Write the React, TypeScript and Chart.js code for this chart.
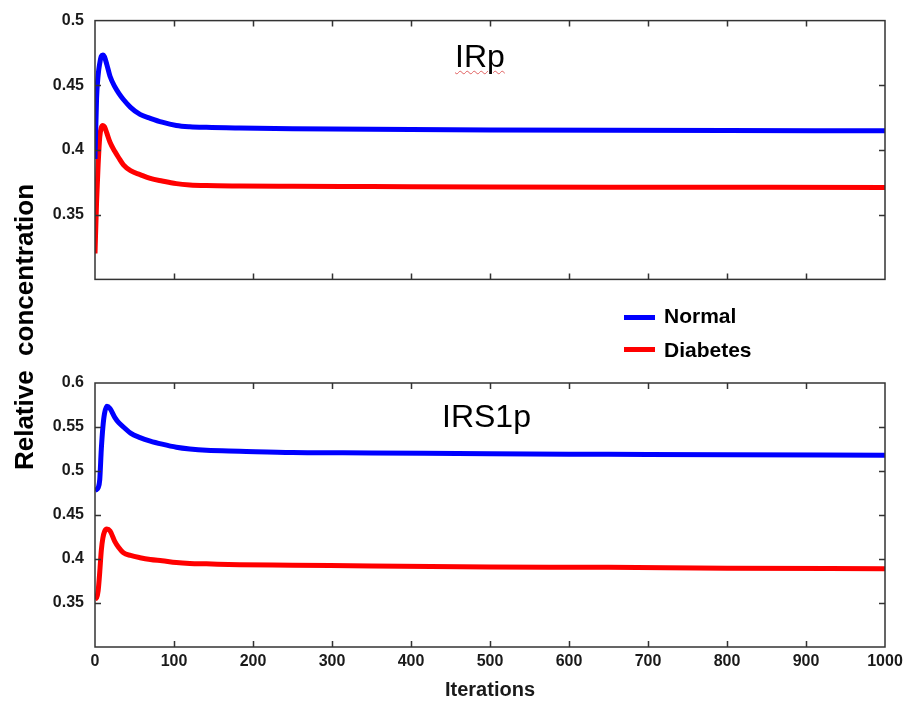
import React, { useEffect, useRef } from 'react';
import { Chart, registerables } from 'chart.js';

Chart.register(...registerables);

// ---- data ----
const iterations = [0, 2, 4, 6, 8, 10, 12, 15, 19, 25, 30, 36, 45, 57, 70, 85, 103, 120, 141, 183, 250, 350, 500, 650, 800, 1000];

const irpNormal = [0.393, 0.44, 0.458, 0.467, 0.4725, 0.4735, 0.472, 0.466, 0.457, 0.449, 0.444, 0.439, 0.433, 0.4275, 0.4245, 0.4215, 0.419, 0.418, 0.4175, 0.417, 0.4165, 0.416, 0.4155, 0.4152, 0.415, 0.4148];
const irpDiabetes = [0.32, 0.36, 0.389, 0.41, 0.4175, 0.419, 0.418, 0.413, 0.406, 0.399, 0.394, 0.3885, 0.384, 0.381, 0.378, 0.376, 0.374, 0.373, 0.3725, 0.3722, 0.372, 0.3718, 0.3715, 0.3713, 0.3712, 0.371];

const irs1pNormal = [0.478, 0.479, 0.481, 0.49, 0.525, 0.55, 0.565, 0.5735, 0.571, 0.561, 0.555, 0.55, 0.543, 0.538, 0.534, 0.5305, 0.527, 0.525, 0.5235, 0.5225, 0.521, 0.5205, 0.5195, 0.519, 0.5185, 0.518];
const irs1pDiabetes = [0.3546, 0.356, 0.364, 0.385, 0.41, 0.424, 0.431, 0.434, 0.432, 0.42, 0.413, 0.407, 0.404, 0.4015, 0.3995, 0.398, 0.396, 0.395, 0.3945, 0.3935, 0.393, 0.392, 0.391, 0.3905, 0.3895, 0.389];

const xMin = 0;
const xMax = 1000;
const xStep = 100;
const topYMin = 0.3;
const topYMax = 0.5;
const bottomYMin = 0.3;
const bottomYMax = 0.6;
const yStep = 0.05;

const seriesNames = ['Normal', 'Diabetes'];
const seriesColors = ['#0000ff', '#ff0000'];

const FONT = '"Liberation Sans", Arial, Helvetica, sans-serif';

const framePlugin = {
  id: 'frameTicks',
  afterDatasetsDraw(chart: any) {
    const { ctx, chartArea, scales } = chart;
    const { left, top, right, bottom } = chartArea;
    const tl = 6;
    ctx.save();
    ctx.strokeStyle = '#333333';
    ctx.lineWidth = 1.5;
    ctx.beginPath();
    scales.x.ticks.forEach((t: any) => {
      if (t.value <= scales.x.min || t.value >= scales.x.max) return;
      const px = Math.round(scales.x.getPixelForValue(t.value)) + 0.5;
      ctx.moveTo(px, bottom);
      ctx.lineTo(px, bottom - tl);
      ctx.moveTo(px, top);
      ctx.lineTo(px, top + tl);
    });
    scales.y.ticks.forEach((t: any) => {
      if (t.value <= scales.y.min + 1e-9 || t.value >= scales.y.max - 1e-9) return;
      const py = Math.round(scales.y.getPixelForValue(t.value)) + 0.5;
      ctx.moveTo(left, py);
      ctx.lineTo(left + tl, py);
      ctx.moveTo(right, py);
      ctx.lineTo(right - tl, py);
    });
    ctx.stroke();
    ctx.strokeRect(left, top, right - left, bottom - top);
    ctx.restore();
  },
};

type PanelProps = {
  normal: number[];
  diabetes: number[];
  yMin: number;
  yMax: number;
  showXLabels: boolean;
  top: number;
  height: number;
  padTop: number;
  padBottom: number;
  xAxisHeight: number;
};

function Panel(props: PanelProps) {
  const ref = useRef<HTMLCanvasElement | null>(null);
  useEffect(() => {
    if (!ref.current) return;
    const seriesValues = [props.normal, props.diabetes];
    const chart = new Chart(ref.current, {
      type: 'line',
      data: {
        datasets: seriesValues.map((vals, si) => ({
          label: seriesNames[si],
          data: iterations.map((x, i) => ({ x, y: vals[i] })),
          borderColor: seriesColors[si],
          backgroundColor: seriesColors[si],
          borderWidth: 5,
          pointRadius: 0,
          cubicInterpolationMode: 'monotone' as const,
          fill: false,
        })),
      },
      options: {
        animation: false,
        responsive: false,
        maintainAspectRatio: false,
        layout: { padding: { top: props.padTop, right: 26, bottom: props.padBottom, left: 0 } },
        plugins: {
          legend: { display: false },
          tooltip: { enabled: false },
          title: { display: false },
        },
        scales: {
          x: {
            type: 'linear',
            min: xMin,
            max: xMax,
            grid: { display: false, drawTicks: false },
            border: { display: false },
            ticks: {
              display: props.showXLabels,
              stepSize: xStep,
              padding: 5,
              color: '#1a1a1a',
              font: { family: FONT, size: 16, weight: 'bold' },
              maxRotation: 0,
              callback: (v: any) => String(v),
            },
            title: {
              display: props.showXLabels,
              text: 'Iterations',
              color: '#1a1a1a',
              font: { family: FONT, size: 20, weight: 'bold' },
              padding: { top: 0, bottom: 2 },
            },
            afterFit: (scale: any) => {
              scale.height = props.xAxisHeight;
            },
          },
          y: {
            type: 'linear',
            min: props.yMin,
            max: props.yMax,
            grid: { display: false, drawTicks: false },
            border: { display: false },
            ticks: {
              stepSize: yStep,
              padding: 11,
              color: '#1a1a1a',
              font: { family: FONT, size: 16, weight: 'bold' },
              callback: (v: any) => {
                const n = Number(Number(v).toFixed(2));
                if (Math.abs(n - props.yMin) < 1e-6) return '';
                return String(n);
              },
            },
            afterFit: (scale: any) => {
              scale.width = 95;
            },
          },
        },
      },
      plugins: [framePlugin],
    });
    return () => chart.destroy();
  }, []);
  return (
    <canvas
      ref={ref}
      width={911}
      height={props.height}
      style={{ position: 'absolute', left: 0, top: props.top, width: 911, height: props.height }}
    />
  );
}

export default function App() {
  const textBase: React.CSSProperties = {
    position: 'absolute',
    fontFamily: FONT,
    color: '#000',
    whiteSpace: 'pre',
  };
  return (
    <div style={{ position: 'absolute', left: 0, top: 0, width: 911, height: 704, background: '#fff', overflow: 'hidden' }}>
      <Panel normal={irpNormal} diabetes={irpDiabetes} yMin={topYMin} yMax={topYMax} showXLabels={false}
        top={0} height={300} padTop={17} padBottom={20} xAxisHeight={0} />
      <Panel normal={irs1pNormal} diabetes={irs1pDiabetes} yMin={bottomYMin} yMax={bottomYMax} showXLabels={true}
        top={360} height={344} padTop={23} padBottom={0} xAxisHeight={57} />

      <div style={{ ...textBase, left: 455, top: 40, fontSize: 32, lineHeight: '32px', textDecoration: 'underline wavy #e06060', textDecorationThickness: '1px', textUnderlineOffset: '3px' }}>IRp</div>
      <div style={{ ...textBase, left: 442, top: 400, fontSize: 32, lineHeight: '32px' }}>IRS1p</div>

      <div style={{ position: 'absolute', left: 624, top: 315, width: 31, height: 5, background: seriesColors[0] }} />
      <div style={{ ...textBase, left: 664, top: 305, fontSize: 21, lineHeight: '21px', fontWeight: 'bold' }}>{seriesNames[0]}</div>
      <div style={{ position: 'absolute', left: 624, top: 347, width: 31, height: 5, background: seriesColors[1] }} />
      <div style={{ ...textBase, left: 664, top: 339, fontSize: 21, lineHeight: '21px', fontWeight: 'bold' }}>{seriesNames[1]}</div>

      <div style={{ ...textBase, left: 24 - 160, top: 327 - 13, width: 320, height: 26, fontSize: 26, lineHeight: '26px', fontWeight: 'bold', textAlign: 'center', transform: 'rotate(-90deg)' }}>{'Relative  concentration'}</div>
    </div>
  );
}
